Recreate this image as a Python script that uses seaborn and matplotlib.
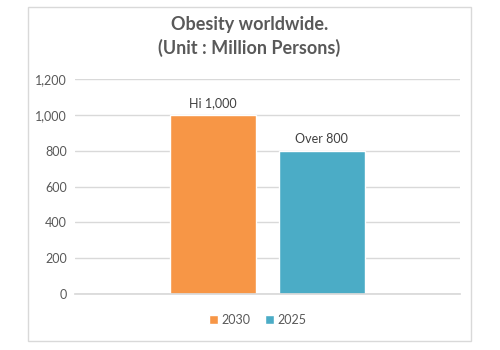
import matplotlib
matplotlib.use("Agg")
import matplotlib.pyplot as plt
import seaborn as sns
import pandas as pd
from matplotlib.patches import Rectangle
from matplotlib.ticker import FuncFormatter

# chart data
years = ["2030", "2025"]
values = [1000, 800]
labels = ["Hi 1,000", "Over 800"]
colors = ["#F79646", "#4BACC6"]
yticks = [0, 200, 400, 600, 800, 1000, 1200]

df = pd.DataFrame({"cat": ["Obesity"] * len(years), "year": years, "value": values})

sns.set_theme(style="white")
plt.rcParams['font.family'] = ['Lato', 'DejaVu Sans']
grey = "#595959"

fig = plt.figure(figsize=(5, 3.5), dpi=100)
ax = fig.add_axes([0.15, 0.16, 0.77, 0.614])

sns.barplot(data=df, x="cat", y="value", hue="year", hue_order=years,
            palette=colors, width=0.564, gap=0.21, saturation=1, ax=ax, legend=True)

ax.set_ylim(0, 1200)
ax.set_xlim(-0.5, 0.5)
ax.set_yticks(yticks)
ax.yaxis.set_major_formatter(FuncFormatter(lambda v, p: f"{int(v):,}"))
ax.grid(axis="y", color="#D9D9D9", linewidth=1)
ax.set_axisbelow(True)
ax.set_xticks([])
ax.set_xlabel("")
ax.set_ylabel("")
for s in ax.spines.values():
    s.set_visible(False)
ax.spines["bottom"].set_visible(True)
ax.spines["bottom"].set_color("#D9D9D9")
ax.tick_params(axis="y", colors=grey, labelsize=9, length=0, pad=6)

for cont, lab in zip(ax.containers, labels):
    ax.bar_label(cont, labels=[lab], padding=4, fontsize=9, color="#404040")

ax.legend(loc="upper center", bbox_to_anchor=(0.475, -0.04), ncol=2, frameon=False,
          fontsize=9, handlelength=0.7, handleheight=0.7, handletextpad=0.3,
          columnspacing=1.2, labelcolor=grey)

fig.text(0.499, 0.955, "Obesity worldwide.\n(Unit : Million Persons)", ha="center", va="top",
         fontsize=13, fontweight="bold", color=grey, linespacing=1.42)

fig.patches.append(Rectangle((28 / 500, 1 - 341 / 350), 443 / 500, 334 / 350,
                             transform=fig.transFigure, fill=False,
                             edgecolor="#D9D9D9", linewidth=1))

fig.savefig("out.png", dpi=100)
